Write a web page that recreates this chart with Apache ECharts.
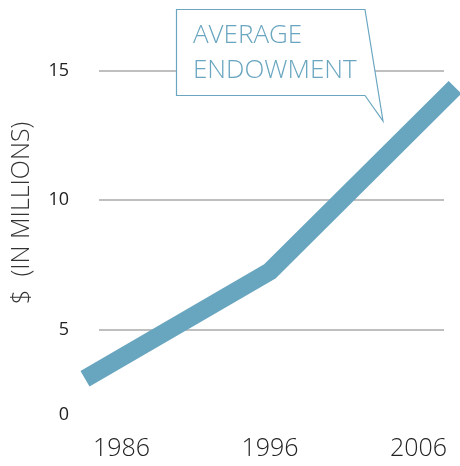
<!DOCTYPE html>
<html>
<head>
<meta charset="utf-8">
<script src="https://cdn.jsdelivr.net/npm/echarts@6/dist/echarts.min.js"></script>
<style>
    html, body { margin: 0; padding: 0; background: #fff; }
    #chart { width: 460px; height: 466px; }
</style>
</head>
<body>
<div id="chart"></div>
<script>
    // data
    var years = [1986, 1996, 2006];
    var endowment = [3.1, 7.25, 14.35];
    var yLabelValues = [1.7, 5, 10, 15];
    var yLabelTexts = ['0', '5', '10', '15'];
    var yGridValues = [5, 10, 15];
    var calloutText = ['AVERAGE', 'ENDOWMENT'];

    var font = '"Open Sans", Roboto, "Liberation Sans", sans-serif';
    var lineColor = '#68a5bf';

    var chart = echarts.init(document.getElementById('chart'));

    var option = {
        animation: false,
        grid: [
            // grid for the y axis + gridlines
            { left: 99, right: 16, top: 70.5, bottom: 51, outerBoundsMode: 'none', containLabel: false },
            // grid for the line, a bit wider
            { left: 85, right: 5, top: 70.5, bottom: 51, outerBoundsMode: 'none', containLabel: false }
        ],
        xAxis: [{
            gridIndex: 0,
            type: 'value',
            min: 0,
            max: 1,
            show: false
        }, {
            gridIndex: 1,
            type: 'value',
            min: years[0],
            max: years[years.length - 1],
            axisLine: { show: false },
            axisTick: { show: false },
            splitLine: { show: false },
            axisLabel: {
                customValues: years,
                margin: 21,
                color: '#222',
                fontFamily: font,
                fontWeight: 300,
                fontSize: 25,
                alignMinLabel: 'left',
                alignMaxLabel: 'right',
                padding: [0, 8, 0, 8],
                formatter: function(v) { return String(v); }
            }
        }],
        yAxis: [{
            gridIndex: 0,
            type: 'value',
            min: yLabelValues[0],
            max: 15,
            name: '$  (IN MILLIONS)',
            nameLocation: 'middle',
            nameRotate: 90,
            nameGap: 65,
            nameTextStyle: {
                color: '#333',
                fontFamily: font,
                fontWeight: 300,
                fontSize: 25,
                padding: [0, 0, 0, 60]
            },
            axisLine: { show: false },
            axisTick: { show: false, customValues: yGridValues },
            axisLabel: {
                customValues: yLabelValues,
                margin: 30,
                color: '#222',
                fontFamily: font,
                fontSize: 18,
                formatter: function(v) {
                    var i = yLabelValues.indexOf(v);
                    return i >= 0 ? yLabelTexts[i] : '';
                }
            },
            splitLine: {
                show: true,
                lineStyle: { color: '#aaa', width: 1.5 }
            }
        }, {
            gridIndex: 1,
            type: 'value',
            min: yLabelValues[0],
            max: 15,
            show: false,
            splitLine: { show: false }
        }],
        series: [{
            type: 'line',
            xAxisIndex: 1,
            yAxisIndex: 1,
            data: years.map(function(y, i) { return [y, endowment[i]]; }),
            symbol: 'none',
            clip: false,
            lineStyle: { color: lineColor, width: 18, cap: 'butt', join: 'miter' },
            z: 3
        }],
        graphic: [{
            type: 'polygon',
            z: 10,
            shape: {
                points: [[176.5, 9.5], [365, 9.5], [383, 121], [365, 95.5], [176.5, 95.5]]
            },
            style: { fill: '#fff', stroke: '#6aa6c0', lineWidth: 1.2 }
        }, {
            type: 'text',
            z: 11,
            left: 193,
            top: 18,
            style: {
                text: calloutText.join('\n'),
                fill: '#6aa6c0',
                font: '300 26px ' + font,
                lineHeight: 35
            }
        }]
    };

    chart.setOption(option);
</script>
</body>
</html>
